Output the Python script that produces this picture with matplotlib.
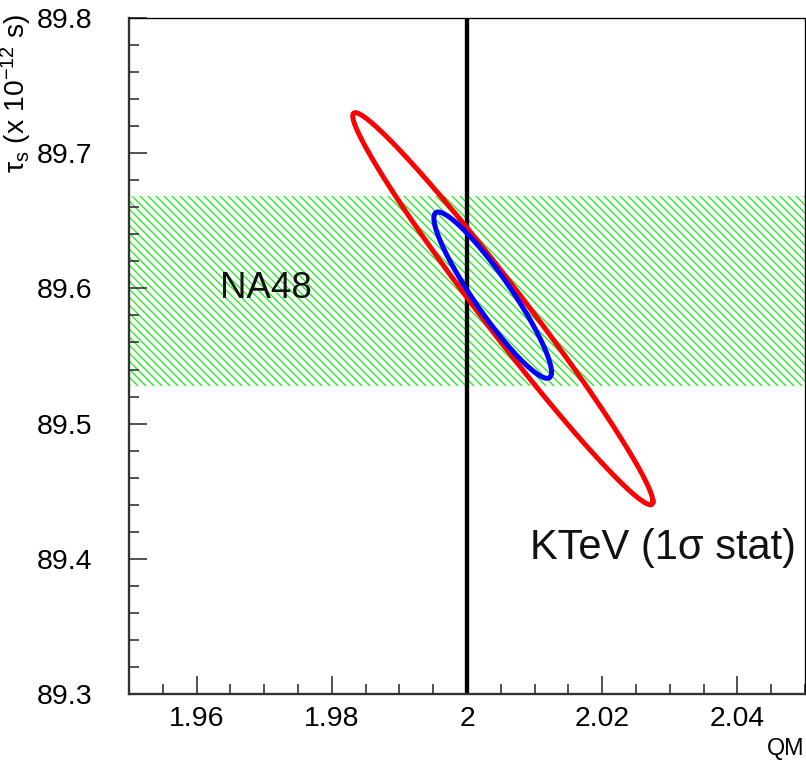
import numpy as np
import matplotlib
matplotlib.use("Agg")
import matplotlib.pyplot as plt
from matplotlib.ticker import MultipleLocator, FuncFormatter

plt.rcParams['font.family'] = ['Liberation Sans', 'DejaVu Sans']
plt.rcParams['mathtext.fontset'] = 'custom'
plt.rcParams['mathtext.rm'] = 'Liberation Sans'
plt.rcParams['mathtext.it'] = 'Liberation Sans'
plt.rcParams['hatch.linewidth'] = 0.8

# NA48 band (tau_s range)
na48_band = [89.528, 89.668]
# QM reference line
qm_value = 2.0

# KTeV contours: center, sigma (x, y), correlation
red_center = [2.0053, 89.585]
red_sigma = [0.0222, 0.145]
red_rho = -0.983

blue_center = [2.0038, 89.595]
blue_sigma = [0.0087, 0.0615]
blue_rho = -0.925

x_ticks = [1.96, 1.98, 2.0, 2.02, 2.04]
y_ticks = [89.3, 89.4, 89.5, 89.6, 89.7, 89.8]


def contour(center, sigma, rho, n=400):
    t = np.linspace(0, 2 * np.pi, n)
    x = center[0] + sigma[0] * np.cos(t)
    y = center[1] + sigma[1] * (rho * np.cos(t) + np.sqrt(1 - rho ** 2) * np.sin(t))
    return x, y


dpi = 120
fig = plt.figure(figsize=(806 / dpi, 765 / dpi), dpi=dpi)
ax = fig.add_axes([129 / 806, 1 - 694 / 765, 676 / 806, 676 / 765])

ax.fill_between([1.95, 2.05], na48_band[0], na48_band[1], facecolor='none',
                edgecolor='#22ee22', hatch='\\\\\\\\\\', linewidth=0, zorder=1)
ax.axvline(qm_value, color='black', lw=2.6, zorder=2)

rx, ry = contour(red_center, red_sigma, red_rho)
ax.plot(rx, ry, color='#ff0000', lw=3.0, zorder=3)
bx, by = contour(blue_center, blue_sigma, blue_rho)
ax.plot(bx, by, color='#0000ff', lw=3.0, zorder=4)

ax.text(1.9635, 89.6, 'NA48', fontsize=22, va='center', ha='left', color='#111111')
ax.text(2.0487, 89.408, 'KTeV (1σ stat)', fontsize=25, va='center', ha='right',
        color='#111111')

ax.set_xlim(1.95, 2.05)
ax.set_ylim(89.3, 89.8)
ax.set_xticks(x_ticks)
ax.set_yticks(y_ticks)
ax.xaxis.set_minor_locator(MultipleLocator(0.005))
ax.yaxis.set_minor_locator(MultipleLocator(0.02))
ax.xaxis.set_major_formatter(FuncFormatter(lambda v, p: '%g' % v))
ax.yaxis.set_major_formatter(FuncFormatter(lambda v, p: '%g' % v))
ax.tick_params(which='both', direction='in', top=False, right=False,
               color='#333333', width=1.0, labelsize=17)
ax.tick_params(which='major', length=11)
ax.tick_params(which='minor', length=6)
ax.tick_params(axis='x', pad=7)
ax.tick_params(axis='y', pad=22)

for s in ['left', 'bottom']:
    ax.spines[s].set_linewidth(1.4)
    ax.spines[s].set_color('#333333')
for s in ['top', 'right']:
    ax.spines[s].set_linewidth(0.8)
    ax.spines[s].set_color('black')

fig.text(804 / 806, 1 - 748 / 765, 'QM', fontsize=14, ha='right', va='center')
fig.text(16 / 806, 1 - 14 / 765, r'$\tau_{s}$ (x 10$^{-12}$ s)', fontsize=17,
         rotation=90, ha='center', va='top')

fig.savefig('out.png', dpi=dpi)
